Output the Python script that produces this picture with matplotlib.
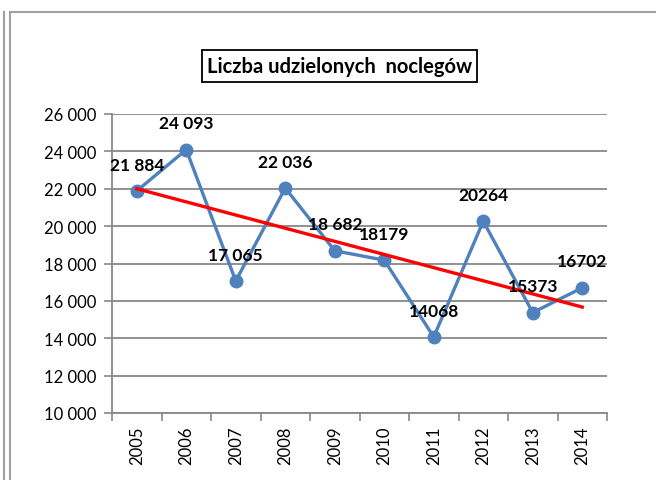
import numpy as np
import matplotlib.pyplot as plt
from matplotlib.patches import Rectangle
from matplotlib.lines import Line2D

years = ['2005', '2006', '2007', '2008', '2009', '2010', '2011', '2012', '2013', '2014']
noclegi = [21884, 24093, 17065, 22036, 18682, 18179, 14068, 20264, 15373, 16702]
labels = ['21 884', '24 093', '17 065', '22 036', '18 682', '18179', '14068', '20264', '15373', '16702']
yticks = [10000, 12000, 14000, 16000, 18000, 20000, 22000, 24000, 26000]
ytick_labels = ['10 000', '12 000', '14 000', '16 000', '18 000', '20 000', '22 000', '24 000', '26 000']

W, H = 656, 481
fig = plt.figure(figsize=(W / 100, H / 100), dpi=100)
fig.patch.set_facecolor('white')

# outer frame lines (left double line and top line)
grey = '#a0a0a0'
fig.add_artist(Line2D([4 / W, 4 / W], [0, 1 - 13 / H], color=grey, lw=1.5))
fig.add_artist(Line2D([10 / W, 10 / W], [0, 1 - 13 / H], color=grey, lw=1.5))
fig.add_artist(Line2D([10 / W, 1], [1 - 13 / H, 1 - 13 / H], color=grey, lw=1.5))

ax = fig.add_axes([112 / W, 1 - 414 / H, (607 - 112) / W, (414 - 115) / H])
x = np.arange(len(years))

ax.set_xlim(-0.5, len(years) - 0.5)
ax.set_ylim(10000, 26000)
ax.set_yticks(yticks)
ax.set_yticklabels(ytick_labels, fontsize=12, family='Lato')
ax.set_xticks(x)
ax.set_xticklabels(years, rotation=90, fontsize=12, family='Lato')
ax.set_xticks(np.arange(-0.5, len(years)), minor=True)
ax.tick_params(axis='x', which='major', length=0, pad=9)
ax.tick_params(axis='x', which='minor', length=6, color='#888888', width=1.2, direction='out')
ax.tick_params(axis='y', length=6, color='#888888', width=1.2, pad=5)

ax.grid(axis='y', color='#888888', lw=1.3)
ax.set_axisbelow(True)
for side in ['top', 'right']:
    ax.spines[side].set_visible(False)
for side in ['left', 'bottom']:
    ax.spines[side].set_color('#888888')
    ax.spines[side].set_linewidth(1.3)

ax.plot(x, noclegi, color='#4F81BD', lw=2.4, marker='o', markersize=9, zorder=3)

# linear trend (like Excel trendline)
a, b = np.polyfit(x, noclegi, 1)
ax.plot(x, a * x + b, color='#FF0000', lw=2.4, zorder=4)

for xi, yi, lab in zip(x, noclegi, labels):
    ax.annotate(lab, (xi, yi), xytext=(0, 19), textcoords='offset points',
                ha='center', va='center', fontsize=12.5, fontweight='bold', family='Lato', zorder=5)

# title box
fig.add_artist(Rectangle((202 / W, 1 - 83 / H), (477 - 202) / W, (83 - 51) / H,
                         transform=fig.transFigure, fill=False, edgecolor='black', lw=1.3))
fig.text(339.5 / W, 1 - 67 / H, 'Liczba udzielonych  noclegów', ha='center', va='center',
         fontsize=14.5, fontweight='bold', family='Lato')

fig.savefig('out.png', dpi=100)
